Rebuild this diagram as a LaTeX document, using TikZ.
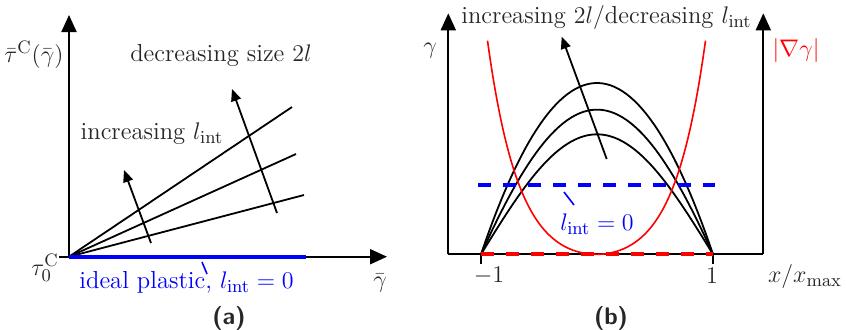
\documentclass[tikz,border=0pt]{standalone}
\usepackage{amsmath}
\usetikzlibrary{arrows.meta}
\begin{document}
\begin{tikzpicture}[x=0.5pt,y=-0.5pt,
  axis/.style={line width=1pt,-{Triangle[length=8.5pt,width=7.5pt]}},
  plainax/.style={line width=1pt},
  trend/.style={line width=0.9pt,-{Triangle[length=6pt,width=5pt]}},
  curve/.style={line width=0.9pt},
  redcurve/.style={line width=0.8pt,red},
  bluethick/.style={line width=2pt,blue},
  dashline/.style={line width=2pt,dash pattern=on 6.5pt off 6pt},
  pointer/.style={line width=0.8pt,blue},
  lbl/.style={font=\fontsize{12.3}{14}\selectfont,text=black!85,inner sep=0pt},
  subcap/.style={font=\sffamily\bfseries\fontsize{12}{14}\selectfont,text=black!85,inner sep=0pt}
]
\useasboundingbox (0,0) rectangle (846,329);
% ---------- panel (a) ----------
\coordinate (Oa) at (69,256.7);
\coordinate (Ya) at (69,15);
\coordinate (Xs) at (59,256.7);
\coordinate (Xa) at (387,256.7);
\coordinate (Be) at (305.7,256.7);
\coordinate (L1) at (292,107);
\coordinate (L2) at (296,154);
\coordinate (L3) at (304,195);
\coordinate (A1s) at (151,243);
\coordinate (A1e) at (124,170);
\coordinate (A2s) at (277,213);
\coordinate (A2e) at (232,89);
\coordinate (Pa1) at (202,262);
\coordinate (Pa2) at (207,274);
\draw[axis] (Oa) -- (Ya);
\draw[axis] (Xs) -- (Xa);
\draw[curve] (Oa) -- (L1);
\draw[curve] (Oa) -- (L2);
\draw[curve] (Oa) -- (L3);
\draw[bluethick] (Oa) -- (Be);
\draw[trend] (A1s) -- (A1e);
\draw[trend] (A2s) -- (A2e);
\draw[pointer] (Pa1) -- (Pa2);
\node[lbl] (tauy) at (34,54.5) {$\bar\tau^{\mathrm{C}}(\bar\gamma)$};
\node[lbl] (tau0) at (45,268) {$\tau_0^{\mathrm{C}}$};
\node[lbl] (gbar) at (380,283) {$\bar\gamma$};
\node[lbl] (dec) at (221,55) {decreasing size $2l$};
\node[lbl] (inc) at (152,133.5) {increasing $l_{\mathrm{int}}$};
\node[lbl,text=blue] (ideal) at (186.5,282.5) {ideal plastic, $l_{\mathrm{int}}=0$};
\node[subcap] (capa) at (229,318.5) {(a)};
% ---------- panel (b) ----------
\coordinate (BL) at (448.3,254.3);
\coordinate (BR) at (763.3,254.3);
\coordinate (TL) at (448.3,13.3);
\coordinate (TR) at (763.3,13.3);
\coordinate (M1) at (481,254.3);
\coordinate (P1) at (712.7,254.3);
\coordinate (M1b) at (481,263.5);
\coordinate (P1b) at (712.7,263.5);
\coordinate (Bds) at (478,185);
\coordinate (Bde) at (715,185);
\coordinate (Ab) at (606.7,159);
\coordinate (Abe) at (561.7,36.7);
\coordinate (Pb1) at (564,192);
\coordinate (Pb2) at (574,205);
\draw[axis] (BL) -- (TL);
\draw[axis] (BR) -- (TR);
\draw[plainax] (BL) -- (BR);
\draw[plainax] (M1) -- (M1b);
\draw[plainax] (P1) -- (P1b);
% gamma profiles
\draw[curve] plot[domain=-116:116,samples=60] ({597+\x},{254.3-171.3*(1-(\x/116)^2)});
\draw[curve] plot[domain=-116:116,samples=60] ({597+\x},{254.3-144.7*(0.5*(1-(\x/116)^2)+0.5*cos(90*\x/116))});
\draw[curve] plot[domain=-116:116,samples=60] ({597+\x},{254.3-120*cos(90*\x/116)});
% gradient
\draw[redcurve] plot[domain=-109:109,samples=90] ({596.5+\x},{254.3-13.9*(cosh(0.032*\x)-1)});
\draw[dashline,red] (M1) -- (P1);
\draw[dashline,blue] (Bds) -- (Bde);
\draw[trend] (Ab) -- (Abe);
\draw[pointer] (Pb1) -- (Pb2);
\node[lbl] (gam) at (430,51) {$\gamma$};
\node[lbl,text=red] (grad) at (796,50) {$|\nabla\gamma|$};
\node[lbl] (title) at (606.5,17.5) {increasing $2l/$decreasing $l_{\mathrm{int}}$};
\node[lbl,text=blue] (lz) at (597,224) {$l_{\mathrm{int}}=0$};
\node[lbl] (tm1) at (489,276) {$-1$};
\node[lbl] (tp1) at (712,276) {$1$};
\node[lbl] (xx) at (805,276.5) {$x/x_{\max}$};
\node[subcap] (capb) at (611,318) {(b)};
\end{tikzpicture}
\end{document}
